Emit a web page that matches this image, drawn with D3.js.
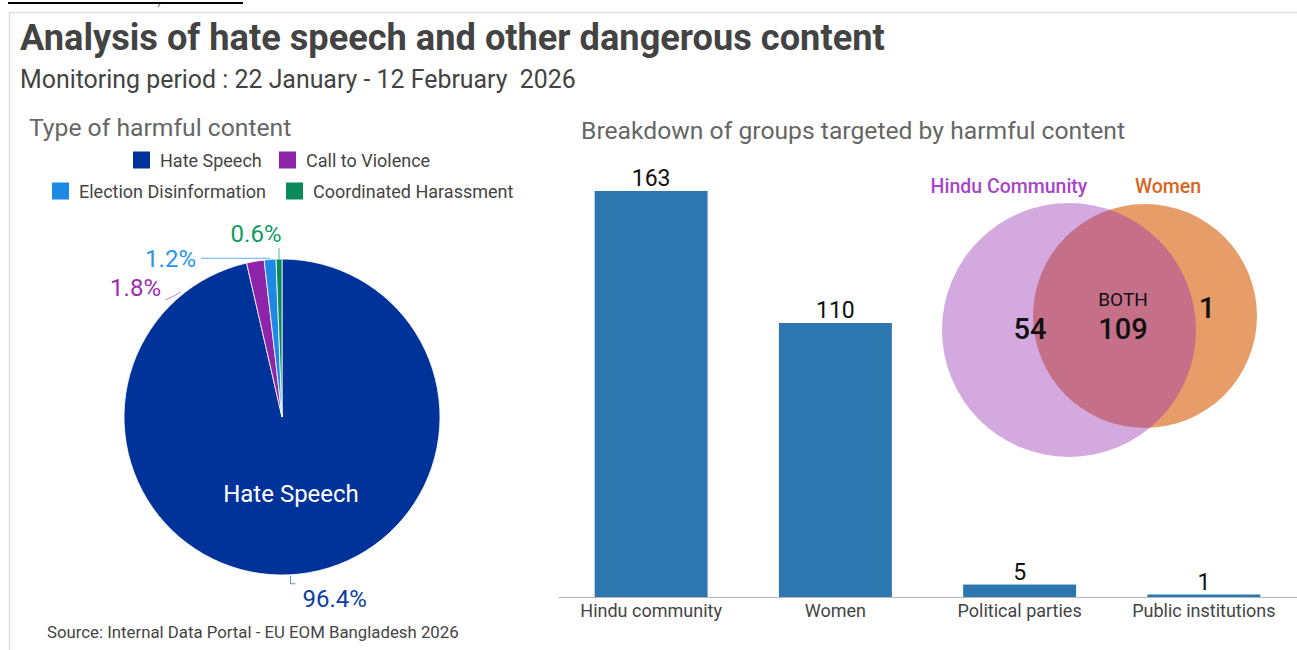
<!DOCTYPE html>
<html>
<head>
<meta charset="utf-8">
<script src="https://cdn.jsdelivr.net/npm/d3@7"></script>
<style>
  html, body { margin: 0; padding: 0; background: #fff; }
  svg { display: block; font-family: Roboto, "Noto Sans", sans-serif; }
  text { white-space: pre; }
</style>
</head>
<body>
<svg id="chart" width="1297" height="650"></svg>
<script>
// ---- data ----
const contentTypes = ["Hate Speech", "Call to Violence", "Election Disinformation", "Coordinated Harassment"];
const contentShares = [96.4, 1.8, 1.2, 0.6];
const contentColors = ["#003399", "#8e24aa", "#1e88e5", "#0b8a5a"];
const labelColors = ["#0d3da3", "#9c2bb0", "#2b95ee", "#129a63"];

const groups = ["Hindu community", "Women", "Political parties", "Public institutions"];
const groupCounts = [163, 110, 5, 1];

const vennSets = ["Hindu Community", "Women"];
const vennTotals = [163, 110];
const vennRegions = [54, 109, 1]; // Hindu only, both, Women only

const svg = d3.select("#chart");

// ---- frame ----
svg.append("line").attr("x1", 8).attr("x2", 243).attr("y1", 3).attr("y2", 3)
  .attr("stroke", "#000").attr("stroke-width", 2);
svg.append("line").attr("x1", 160).attr("x2", 158).attr("y1", 4).attr("y2", 7)
  .attr("stroke", "#555").attr("stroke-width", 1);
svg.append("rect").attr("x", 9.5).attr("y", 12.5).attr("width", 1400).attr("height", 800)
  .attr("fill", "none").attr("stroke", "#dcdcdc").attr("stroke-width", 1.5);

// ---- titles ----
svg.append("text").attr("x", 20).attr("y", 50)
  .attr("font-size", 36.2).attr("font-weight", 700).attr("fill", "#434343")
  .text("Analysis of hate speech and other dangerous content");
svg.append("text").attr("x", 20).attr("y", 88)
  .attr("font-size", 24.9).attr("fill", "#434343")
  .text("Monitoring period : 22 January - 12 February  2026");
svg.append("text").attr("x", 29).attr("y", 136)
  .attr("font-size", 24.7).attr("fill", "#666")
  .text("Type of harmful content");
svg.append("text").attr("x", 581).attr("y", 139)
  .attr("font-size", 24.7).attr("fill", "#666")
  .text("Breakdown of groups targeted by harmful content");
svg.append("text").attr("x", 47).attr("y", 638)
  .attr("font-size", 16.8).attr("fill", "#444")
  .text("Source: Internal Data Portal - EU EOM Bangladesh 2026");

// ---- legend ----
const legendPos = [[133, 160], [279, 160], [52, 191], [286, 191]];
contentTypes.forEach((name, i) => {
  const [lx, ly] = legendPos[i];
  svg.append("rect").attr("x", lx).attr("y", ly - 8.5).attr("width", 17).attr("height", 17)
    .attr("fill", contentColors[i]);
  svg.append("text").attr("x", lx + 27).attr("y", ly + 6.5)
    .attr("font-size", 18).attr("fill", "#444").text(name);
});

// ---- pie ----
const cx = 282, cy = 417, R = 158;
const pieData = contentTypes.map((name, i) => ({ name, value: contentShares[i], i }));
const pie = d3.pie().value(d => d.value).sort(null);
const arcs = pie(pieData);
const arc = d3.arc().innerRadius(0).outerRadius(R);
const pg = svg.append("g").attr("transform", `translate(${cx},${cy})`);
pg.selectAll("path").data(arcs).join("path")
  .attr("d", arc)
  .attr("fill", d => contentColors[d.data.i])
  .attr("stroke", "#fff").attr("stroke-width", 0.8);

pg.append("text").attr("x", 9).attr("y", 85).attr("text-anchor", "middle")
  .attr("font-size", 24).attr("fill", "#fff").text(contentTypes[0]);

const fmt = v => d3.format(".1f")(v) + "%";
const pt = (a, r) => [Math.sin(a) * r, -Math.cos(a) * r];
const mid = d => (d.startAngle + d.endAngle) / 2;

// 96.4% label
{
  const d = arcs[0];
  const [x0, y0] = pt(mid(d) + 0.06, R + 1);
  pg.append("path").attr("d", `M${x0},${y0}V${y0 + 8}H${x0 + 5}`)
    .attr("fill", "none").attr("stroke", labelColors[0]).attr("stroke-width", 1).attr("opacity", 0.6);
  pg.append("text").attr("x", x0 + 12).attr("y", y0 + 31).attr("font-size", 24)
    .attr("fill", labelColors[0]).text(fmt(d.data.value));
}
// 1.8% label
{
  const d = arcs[1];
  pg.append("path").attr("d", `M-117,-117 Q-109,-120 -101,-125`)
    .attr("fill", "none").attr("stroke", labelColors[1]).attr("stroke-width", 1).attr("opacity", 0.6);
  pg.append("text").attr("x", -121).attr("y", -121).attr("text-anchor", "end").attr("font-size", 24)
    .attr("fill", labelColors[1]).text(fmt(d.data.value));
}
// 1.2% label
{
  const d = arcs[2];
  const [x0, y0] = pt(mid(d), R);
  pg.append("line").attr("x1", -81).attr("x2", x0).attr("y1", y0 - 1).attr("y2", y0 - 1)
    .attr("stroke", labelColors[2]).attr("stroke-width", 1.2).attr("opacity", 0.6);
  pg.append("text").attr("x", -86).attr("y", y0 + 8).attr("text-anchor", "end").attr("font-size", 24)
    .attr("fill", labelColors[2]).text(fmt(d.data.value));
}
// 0.6% label
{
  const d = arcs[3];
  const [x0, y0] = pt(mid(d), R);
  pg.append("line").attr("x1", x0).attr("x2", x0).attr("y1", y0).attr("y2", y0 - 11)
    .attr("stroke", labelColors[3]).attr("stroke-width", 1.2).attr("opacity", 0.6);
  pg.append("text").attr("x", x0 - 23).attr("y", y0 - 17).attr("text-anchor", "middle").attr("font-size", 24)
    .attr("fill", labelColors[3]).text(fmt(d.data.value));
}

// ---- bar chart ----
const x = d3.scaleBand().domain(groups).range([559, 1296]).paddingInner(0.387).paddingOuter(0.1935);
const y = d3.scaleLinear().domain([0, 163]).range([597, 191]);
const barColor = "#2c77b0";

svg.selectAll("rect.bar").data(groups).join("rect").attr("class", "bar")
  .attr("x", d => x(d)).attr("width", x.bandwidth())
  .attr("y", (d, i) => y(groupCounts[i])).attr("height", (d, i) => y(0) - y(groupCounts[i]))
  .attr("fill", barColor);

svg.append("line").attr("x1", 559).attr("x2", 1297).attr("y1", y(0) + 0.5).attr("y2", y(0) + 0.5)
  .attr("stroke", "#b7b7b7").attr("stroke-width", 1.2);

svg.selectAll("text.val").data(groups).join("text").attr("class", "val")
  .attr("x", d => x(d) + x.bandwidth() / 2)
  .attr("y", (d, i) => y(groupCounts[i]) - 5)
  .attr("text-anchor", "middle").attr("font-size", 23).attr("fill", "#111")
  .text((d, i) => groupCounts[i]);

svg.selectAll("text.cat").data(groups).join("text").attr("class", "cat")
  .attr("x", d => x(d) + x.bandwidth() / 2).attr("y", 617)
  .attr("text-anchor", "middle").attr("font-size", 18).attr("fill", "#444")
  .text(d => d);

// ---- venn ----
const rScale = d3.scalePow().exponent(0.32).domain([0, 163]).range([0, 127]);
const vennCenters = [[1069, 330], [1145, 316]];
const vennFill = ["#9932b5", "#e69d68"];
const vennText = ["#a845c9", "#d9661f"];

// Women circle underneath, Hindu circle translucent on top
svg.append("circle").attr("cx", vennCenters[1][0]).attr("cy", vennCenters[1][1])
  .attr("r", rScale(vennTotals[1])).attr("fill", vennFill[1]);
svg.append("circle").attr("cx", vennCenters[0][0]).attr("cy", vennCenters[0][1])
  .attr("r", rScale(vennTotals[0])).attr("fill", vennFill[0]).attr("fill-opacity", 0.42);

svg.append("text").attr("x", 1009).attr("y", 193).attr("text-anchor", "middle")
  .attr("font-size", 19.5).attr("font-weight", 500).attr("fill", vennText[0]).text(vennSets[0]);
svg.append("text").attr("x", 1168).attr("y", 193).attr("text-anchor", "middle")
  .attr("font-size", 19.5).attr("font-weight", 500).attr("fill", vennText[1]).text(vennSets[1]);

svg.append("text").attr("x", 1030).attr("y", 339).attr("text-anchor", "middle")
  .attr("font-size", 29).attr("font-weight", 500).attr("fill", "#111").text(vennRegions[0]);
svg.append("text").attr("x", 1123).attr("y", 306).attr("text-anchor", "middle")
  .attr("font-size", 19).attr("fill", "#111").text("BOTH");
svg.append("text").attr("x", 1123).attr("y", 339).attr("text-anchor", "middle")
  .attr("font-size", 29).attr("font-weight", 500).attr("fill", "#111").text(vennRegions[1]);
svg.append("text").attr("x", 1207).attr("y", 318).attr("text-anchor", "middle")
  .attr("font-size", 29).attr("font-weight", 500).attr("fill", "#111").text(vennRegions[2]);
</script>
</body>
</html>
